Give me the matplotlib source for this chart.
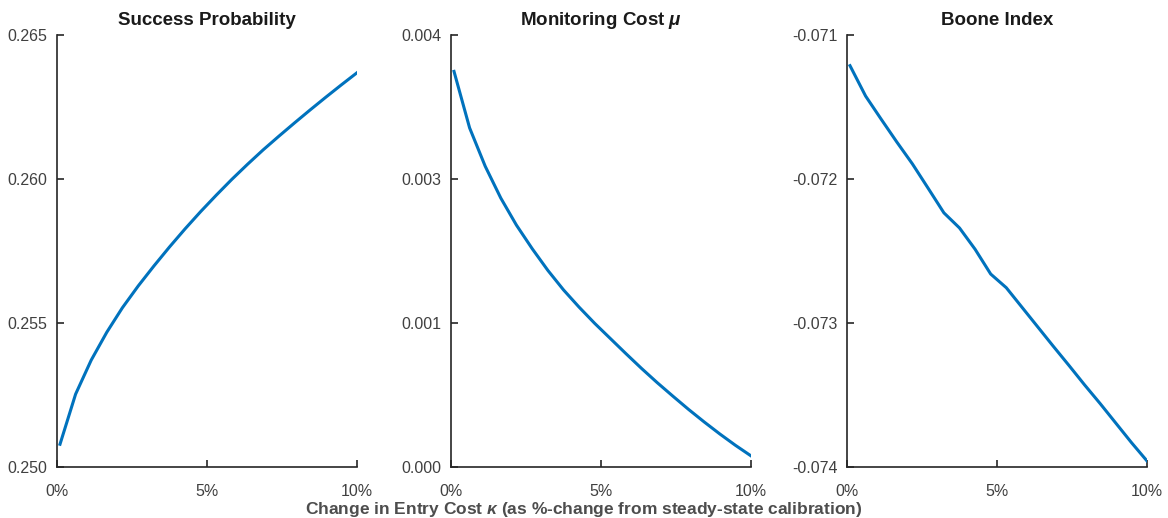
import matplotlib
matplotlib.use("Agg")
import matplotlib.pyplot as plt
from matplotlib.ticker import FuncFormatter

plt.rcParams["font.family"] = ["Liberation Sans", "DejaVu Sans"]
plt.rcParams["mathtext.fontset"] = "custom"
plt.rcParams["mathtext.rm"] = "Liberation Sans"
plt.rcParams["mathtext.it"] = "Liberation Sans:bold:italic"
plt.rcParams["mathtext.bf"] = "Liberation Sans:bold"

# change in entry cost kappa, in percent
kappa_pct = [0.10, 0.62, 1.14, 1.66, 2.18, 2.71, 3.23, 3.75, 4.27, 4.79,
             5.31, 5.83, 6.35, 6.87, 7.40, 7.92, 8.44, 8.96, 9.48, 10.00]

success_prob = [0.25079, 0.25253, 0.25371, 0.25468, 0.25553, 0.25629, 0.25698,
                0.25764, 0.25827, 0.25887, 0.25944, 0.25999, 0.26051, 0.26101,
                0.26149, 0.26195, 0.26240, 0.26284, 0.26327, 0.26369]

monitoring_cost = [0.003663, 0.003140, 0.002785, 0.002490, 0.002240, 0.002020,
                   0.001820, 0.001640, 0.001480, 0.001330, 0.001190, 0.001050,
                   0.000913, 0.000782, 0.000655, 0.000533, 0.000417, 0.000306,
                   0.000201, 0.000103]

boone_index = [-0.071213, -0.071424, -0.071585, -0.071743, -0.071895, -0.072066,
               -0.072235, -0.072340, -0.072488, -0.072660, -0.072755, -0.072890,
               -0.073025, -0.073160, -0.073295, -0.073430, -0.073560, -0.073695,
               -0.073830, -0.073958]

titles = ["Success Probability", r"Monitoring Cost $\mu$", "Boone Index"]
series = [success_prob, monitoring_cost, boone_index]
ylims = [(0.250, 0.265), (0.0, 0.004), (-0.074, -0.071)]
yticks = [[0.250, 0.255, 0.260, 0.265],
          [0.0, 0.004 / 3, 0.008 / 3, 0.004],
          [-0.074, -0.073, -0.072, -0.071]]
xticks = [0, 5, 10]
xticklabels = ["0%", "5%", "10%"]

LINE_COLOR = "#0072BD"
AX_COLOR = "#262626"

fig = plt.figure(figsize=(11.68, 5.18), dpi=100)
lefts = [57 / 1168, 451 / 1168, 847 / 1168]
width = 300 / 1168
bottom = 51 / 518
height = 432 / 518

for left, title, y, ylim, yt in zip(lefts, titles, series, ylims, yticks):
    ax = fig.add_axes([left, bottom, width, height])
    ax.plot(kappa_pct, y, color=LINE_COLOR, linewidth=2.2)
    ax.set_xlim(0, 10)
    ax.set_ylim(*ylim)
    ax.set_xticks(xticks)
    ax.set_xticklabels(xticklabels)
    ax.set_yticks(yt)
    ax.yaxis.set_major_formatter(FuncFormatter(lambda v, p: f"{v:.3f}"))
    for s in ["top", "right"]:
        ax.spines[s].set_visible(False)
    for s in ["left", "bottom"]:
        ax.spines[s].set_color(AX_COLOR)
        ax.spines[s].set_linewidth(1.2)
    ax.tick_params(direction="in", length=5, width=1.2, color=AX_COLOR,
                   labelsize=11.5, labelcolor="#404040")
    ax.tick_params(axis="x", pad=12)
    ax.tick_params(axis="y", pad=7)
    ax.set_title(title, fontsize=13.5, fontweight="bold", color="#1a1a1a", pad=7)

fig.text(0.5, 0.017, r"Change in Entry Cost $\kappa$ (as %-change from steady-state calibration)",
         ha="center", va="center", fontsize=12.5, fontweight="bold", color="#4d4d4d")

plt.savefig("out.png", dpi=100)
